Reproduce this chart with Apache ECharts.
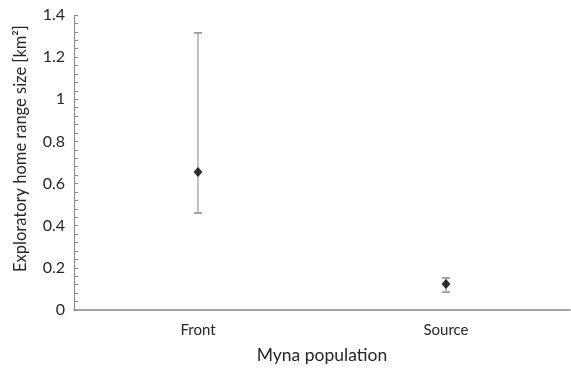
<!DOCTYPE html>
<html><head><meta charset="utf-8">
<script src="https://cdn.jsdelivr.net/npm/echarts@6/dist/echarts.min.js"></script>
<style>html,body{margin:0;padding:0;background:#fff}#c{width:571px;height:369px}</style>
</head><body><div id="c"></div>
<script>
var categories = ['Front', 'Source'];
var means = [0.655, 0.123];
var errLow = [0.46, 0.085];
var errHigh = [1.315, 0.152];
var yTicks = [0, 0.2, 0.4, 0.6, 0.8, 1, 1.2, 1.4];

var chart = echarts.init(document.getElementById('c'), null, {renderer: 'canvas'});
var font = 'Lato, "Open Sans", sans-serif';
chart.setOption({
  animation: false,
  grid: {left: 74, right: 1, top: 15, bottom: 59},
  xAxis: {
    type: 'category', data: categories,
    name: 'Myna population', nameLocation: 'middle', nameGap: 36,
    nameTextStyle: {fontFamily: font, fontSize: 17.5, color: '#262626'},
    axisLine: {lineStyle: {color: '#878787', width: 1.5}},
    axisTick: {show: false},
    axisLabel: {fontFamily: font, fontSize: 15, color: '#262626', margin: 13}
  },
  yAxis: {
    type: 'value', min: 0, max: 1.4, interval: 0.2,
    name: 'Exploratory home range size [km\u00b2]', nameLocation: 'middle', nameGap: 45,
    nameTextStyle: {fontFamily: font, fontSize: 16.5, color: '#262626', padding: [0, 0, 0, 28]},
    axisLine: {show: true, lineStyle: {color: '#878787', width: 1}},
    axisTick: {show: true, inside: true, length: 4, lineStyle: {color: '#878787'}},
    minorTick: {show: true, splitNumber: 5, length: 4, lineStyle: {color: '#878787'}},
    splitLine: {show: false},
    axisLabel: {fontFamily: font, fontSize: 16, color: '#262626', margin: 9,
      formatter: function (v) { return String(Math.round(v * 10) / 10); }}
  },
  series: [
    {
      type: 'custom',
      data: categories.map(function (c, i) { return [i, errLow[i], errHigh[i]]; }),
      renderItem: function (params, api) {
        var lo = api.coord([api.value(0), api.value(1)]);
        var hi = api.coord([api.value(0), api.value(2)]);
        var w = 4;
        return {type: 'group', children: [
          {type: 'line', shape: {x1: hi[0], y1: hi[1], x2: lo[0], y2: lo[1]}, style: {stroke: '#a9a9a9', lineWidth: 1.5}},
          {type: 'line', shape: {x1: hi[0] - w, y1: hi[1], x2: hi[0] + w, y2: hi[1]}, style: {stroke: '#8a8a8a', lineWidth: 1.5}},
          {type: 'line', shape: {x1: lo[0] - w, y1: lo[1], x2: lo[0] + w, y2: lo[1]}, style: {stroke: '#8a8a8a', lineWidth: 1.5}}
        ]};
      },
      z: 2
    },
    {
      type: 'scatter', symbol: 'diamond', symbolSize: [9, 10],
      itemStyle: {color: '#000'},
      data: means.map(function (v, i) { return [i, v]; }),
      z: 3
    }
  ]
});
</script></body></html>
